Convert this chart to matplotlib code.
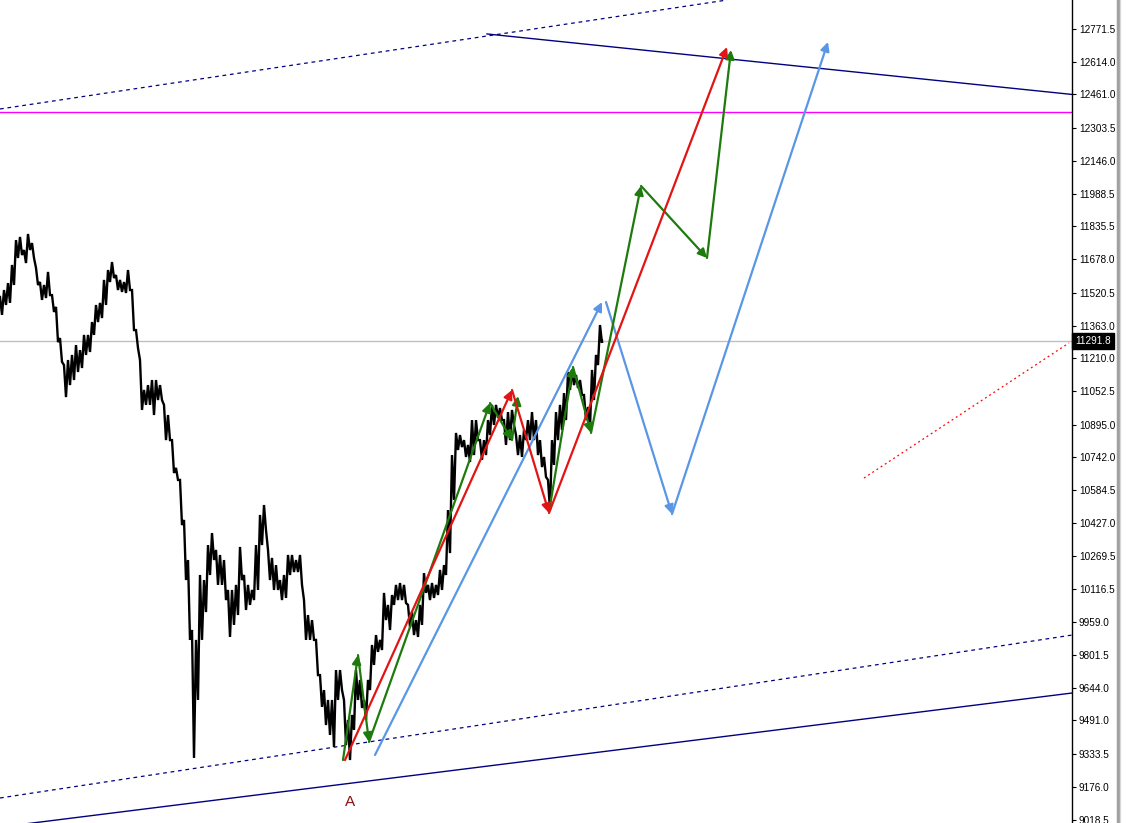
import numpy as np
import matplotlib
matplotlib.use("Agg")
import matplotlib.pyplot as plt
from matplotlib.transforms import blended_transform_factory

# ---------------- data ----------------
bar_x = list(range(0, 601, 4))
highs = [11500, 11533, 11566, 11652, 11770, 11785, 11723, 11799, 11756, 11638,
         11571, 11557, 11619, 11509, 11453, 11305, 11177, 11201, 11225, 11272,
         11248, 11320, 11320, 11381, 11462, 11472, 11581, 11628, 11666, 11604,
         11581, 11571, 11628, 11533, 11343, 11201, 11059, 11082, 11106, 11106,
         11082, 10988, 10940, 10821, 10689, 10632, 10442, 10252, 9920, 9873,
         10181, 10157, 10323, 10380, 10300, 10276, 10252, 10110, 10110, 10134,
         10314, 10181, 10134, 10110, 10323, 10466, 10513, 10300, 10262, 10228,
         10157, 10181, 10276, 10276, 10252, 10276, 10062, 9991, 9967, 9873,
         9706, 9635, 9588, 9588, 9730, 9730, 9588, 9493, 9517, 9730,
         9683, 9588, 9683, 9849, 9896, 9873, 10096, 10039, 10086, 10134,
         10143, 10134, 10039, 10005, 9967, 10039, 10190, 10134, 10143, 10134,
         10205, 10228, 10489, 10750, 10855, 10845, 10821, 10798, 10916, 10916,
         10821, 10821, 10916, 10988, 10988, 10973, 10916, 10954, 10964, 10845,
         10845, 10869, 10916, 10954, 10916, 10821, 10741, 10632, 10821, 10954,
         10988, 11044, 11144, 11154, 11130, 11106, 11035, 10978, 11154, 11225,
         11367]
lows = [11415, 11462, 11472, 11557, 11685, 11699, 11661, 11723, 11685, 11557,
        11486, 11495, 11509, 11429, 11286, 11192, 11025, 11082, 11106, 11144,
        11163, 11225, 11239, 11320, 11381, 11400, 11462, 11571, 11590, 11533,
        11524, 11519, 11533, 11343, 11258, 10964, 10988, 10988, 10940, 11011,
        11011, 10821, 10821, 10665, 10632, 10418, 10157, 9873, 9313, 9588,
        9873, 10005, 10181, 10252, 10134, 10134, 10062, 9887, 9944, 9991,
        10157, 10015, 10039, 10062, 10110, 10323, 10394, 10157, 10110, 10110,
        10062, 10072, 10181, 10195, 10195, 10134, 9873, 9873, 9873, 9706,
        9555, 9469, 9422, 9365, 9588, 9635, 9374, 9303, 9446, 9588,
        9550, 9493, 9635, 9754, 9816, 9825, 9967, 9920, 10039, 10062,
        10062, 10048, 9934, 9896, 9887, 9944, 10096, 10062, 10072, 10086,
        10110, 10181, 10285, 10537, 10774, 10788, 10741, 10717, 10750, 10821,
        10727, 10750, 10845, 10893, 10926, 10916, 10798, 10821, 10893, 10750,
        10741, 10821, 10821, 10821, 10750, 10693, 10646, 10489, 10703, 10821,
        10869, 10916, 11059, 11082, 11068, 11035, 10916, 10883, 11011, 11177,
        11282]
last_x = 602
last_price = 11291.8

# wave projections (bar position, price)
red_x = [345, 512, 549, 727]
red_p = [9303, 11059, 10475, 12686]
green1_x = [343, 358, 369, 490, 512, 518]
green1_p = [9303, 9801, 9389, 10997, 10821, 11030]
green2_x = [549, 573, 591, 641, 707, 731]
green2_p = [10480, 11168, 10855, 12027, 11685, 12672]
blue_x = [375, 602, 606, 672, 828]
blue_p = [9327, 11476, 11476, 10470, 12710]

# trend lines (bar position, price)
upper_dot_x, upper_dot_p = [0, 727], [12392, 12909]
upper_solid_x, upper_solid_p = [487, 1072], [12748, 12461]
lower_dot_x, lower_dot_p = [0, 1072], [9123, 9896]
lower_solid_x, lower_solid_p = [0, 1072], [8985, 9621]
red_dot_x, red_dot_p = [864, 1069], [10641, 11282]
magenta_level = 12378

tick_vals = [12771.5, 12614.0, 12461.0, 12303.5, 12146.0, 11988.5, 11835.5,
             11678.0, 11520.5, 11363.0, 11210.0, 11052.5, 10895.0, 10742.0,
             10584.5, 10427.0, 10269.5, 10116.5, 9959.0, 9801.5, 9644.0,
             9491.0, 9333.5, 9176.0, 9018.5]

# ---------------- figure ----------------
W, H = 1130, 823
fig = plt.figure(figsize=(W / 100, H / 100), dpi=100)
ax = fig.add_axes([0, 0, 1072 / W, 1])
ax.set_xlim(0, 1072)
ax.set_ylim(9004.3, 12909.1)

navy = "#000080"
red = "#e31414"
green = "#1e7a0c"
blue = "#5a96e6"

# horizontal levels
ax.axhline(last_price, color="#c0c0c0", lw=1.0, zorder=1)
ax.axhline(magenta_level, color="#ff00ff", lw=1.0, zorder=1)

# trend lines
ax.plot(upper_dot_x, upper_dot_p, color=navy, lw=0.9, ls=(0, (3, 3)), zorder=2)
ax.plot(upper_solid_x, upper_solid_p, color=navy, lw=1.0, zorder=2)
ax.plot(lower_dot_x, lower_dot_p, color=navy, lw=0.9, ls=(0, (3, 3)), zorder=2)
ax.plot(lower_solid_x, lower_solid_p, color=navy, lw=1.0, zorder=2)
ax.plot(red_dot_x, red_dot_p, color="#ff0000", lw=0.9, ls=(0, (1.5, 2.5)), zorder=2)

# price series (high/low zigzag)
xs, ys = [], []
for x, h, l in zip(bar_x, highs, lows):
    xs += [x, x + 2]
    ys += [h, l]
xs.append(last_x)
ys.append(last_price)
ax.plot(xs, ys, color="black", lw=1.7, zorder=3, solid_joinstyle="miter")


def arrows(xv, pv, color, skip=()):
    for i in range(len(xv) - 1):
        if i in skip:
            continue
        ax.annotate("", xy=(xv[i + 1], pv[i + 1]), xytext=(xv[i], pv[i]),
                    arrowprops=dict(arrowstyle="-|>", color=color, lw=1.6,
                                    mutation_scale=13, shrinkA=0, shrinkB=0),
                    zorder=4)


arrows(blue_x, blue_p, blue, skip=(1,))
arrows(green1_x, green1_p, green)
arrows(green2_x, green2_p, green)
arrows(red_x, red_p, red)

ax.text(350, 9104, "A", color="#8b1010", fontsize=11, ha="center", va="center",
        family="Liberation Sans")

# axes styling
for s in ["top", "left", "bottom"]:
    ax.spines[s].set_visible(False)
ax.spines["right"].set_color("black")
ax.spines["right"].set_linewidth(1.0)
ax.set_xticks([])
ax.yaxis.tick_right()
ax.set_yticks(tick_vals)
ax.set_yticklabels([f"{v:.1f}" for v in tick_vals], family="Liberation Sans")
ax.tick_params(axis="y", direction="out", length=3, width=0.8, pad=2,
               labelsize=7.2, colors="black")

# current price tag
trans = blended_transform_factory(ax.transAxes, ax.transData)
ax.text(1.003, last_price, "11291.8", transform=trans, color="white",
        fontsize=7.2, ha="left", va="center", zorder=10, family="Liberation Sans",
        bbox=dict(boxstyle="square,pad=0.3", fc="black", ec="black"))

# separator of the neighbouring window
fig.add_artist(plt.Line2D([1118 / W, 1118 / W], [0, 1], color="#a0a0a0", lw=2.5))
fig.add_artist(plt.Line2D([1120 / W, 1120 / W], [0, 1], color="#d8d8d8", lw=1))

fig.savefig("out.png", dpi=100)
